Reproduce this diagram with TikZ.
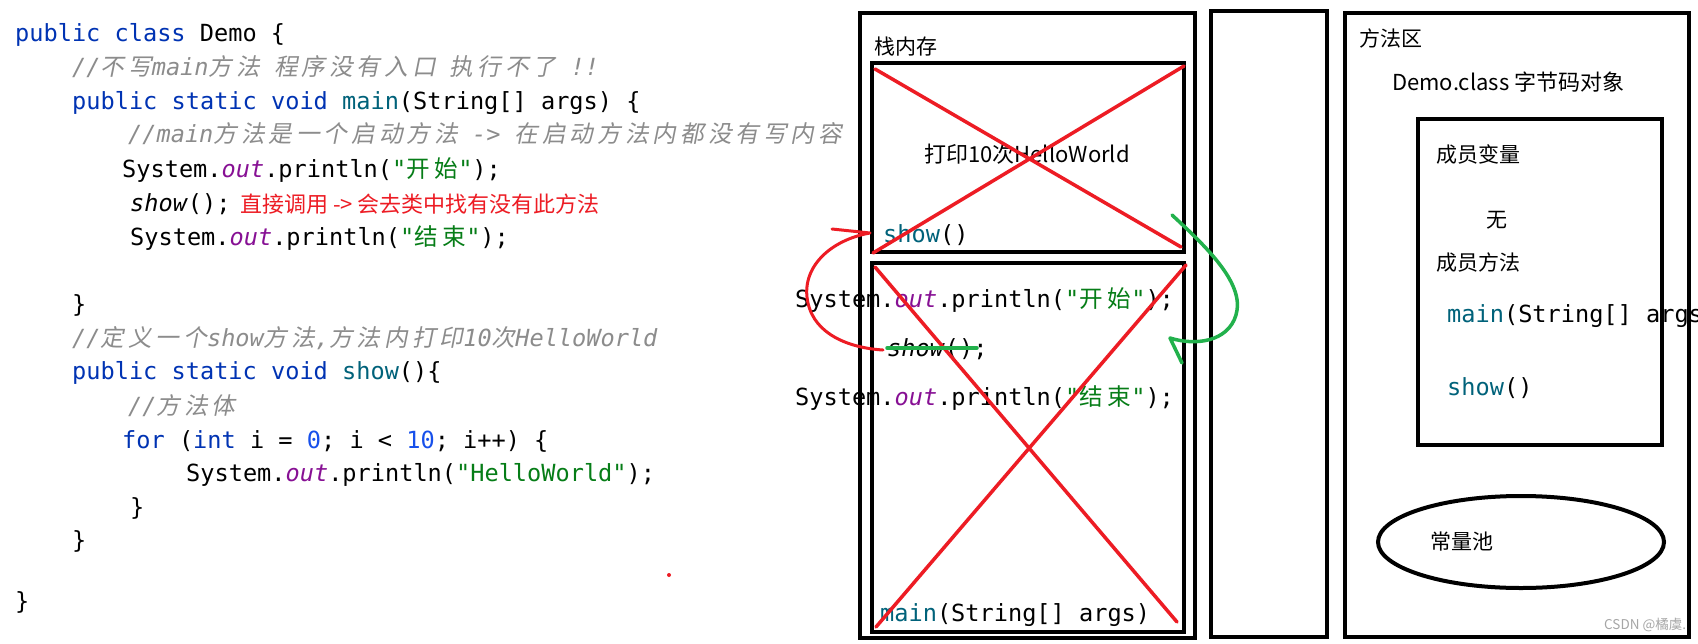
\documentclass[tikz,border=0pt]{standalone}
\usepackage{fontspec}
\newfontfamily\codefont{DejaVu Sans Mono}
\newfontfamily\cjk{Noto Sans CJK SC}
\newfontfamily\cjkcode[LetterSpace=20]{Noto Sans CJK SC}
\newfontfamily\cjkcodeit[LetterSpace=17,FakeSlant=0.2]{Noto Sans CJK SC}
\definecolor{jkwc}{HTML}{0033B3}
\definecolor{jfnc}{HTML}{00627A}
\definecolor{jfldc}{HTML}{871094}
\definecolor{jstrc}{HTML}{067D17}
\definecolor{jnumc}{HTML}{1750EB}
\definecolor{jcmtc}{HTML}{8C8C8C}
\definecolor{penred}{HTML}{ED1C24}
\definecolor{pengreen}{HTML}{22B14C}
\newcommand\jkw[1]{\textcolor{jkwc}{#1}}
\newcommand\jfn[1]{\textcolor{jfnc}{#1}}
\newcommand\jfld[1]{\textcolor{jfldc}{\itshape #1}}
\newcommand\jstr[1]{\textcolor{jstrc}{#1}}
\newcommand\jnum[1]{\textcolor{jnumc}{#1}}
\newcommand\jcn[1]{{\cjkcode #1}}
\newcommand\jcni[1]{{\cjkcodeit #1}}
\begin{document}
\begin{tikzpicture}[x=1pt,y=-1pt,
  code/.style={anchor=base west, inner sep=0pt, font=\codefont\fontsize{23.6}{28}\selectfont},
  cmt/.style={code, text=jcmtc, font=\codefont\fontsize{23.6}{28}\selectfont\itshape},
  lbl/.style={anchor=west, inner sep=0pt, font=\cjk\fontsize{21}{25}\selectfont},
  box/.style={draw=black, line width=4pt},
  redpen/.style={draw=penred, line width=3.5pt, line cap=round, line join=round},
  greenpen/.style={draw=pengreen, line width=3.5pt, line cap=round, line join=round}]
\useasboundingbox[fill=white] (0,0) rectangle (1698,643);

% ---------- source code ----------
\node[code] (l0) at (15,41) {\jkw{public class} Demo \{};
\node[cmt] (l1) at (72,75) {//\jcni{不写}main\jcni{方法} \jcni{程序没有入口} \jcni{执行不了} !!};
\node[code] (l2) at (72,109) {\jkw{public static void} \jfn{main}(String[] args) \{};
\node[cmt] (l3) at (128,142) {//main\jcni{方法是一个启动方法} -> \jcni{在启动方法内都没有写内容}};
\node[code] (l4) at (122,177) {System.\jfld{out}.println(\jstr{"\jcn{开始}"});};
\node[code] (l5) at (130,211) {\textit{show}();};
\node[anchor=west, inner sep=0pt, text=penred, font=\cjk\fontsize{22}{26}\selectfont] (note) at (240,204) {直接调用 -> 会去类中找有没有此方法};
\node[code] (l6) at (130,245) {System.\jfld{out}.println(\jstr{"\jcn{结束}"});};
\node[code] (l8) at (72,312) {\}};
\node[cmt] (l9) at (72,346) {//\jcni{定义一个}show\jcni{方法},\jcni{方法内打印}10\jcni{次}HelloWorld};
\node[code] (l10) at (72,379) {\jkw{public static void} \jfn{show}()\{};
\node[cmt] (l11) at (128,414) {//\jcni{方法体}};
\node[code] (l12) at (122,448) {\jkw{for} (\jkw{int} i = \jnum{0}; i < \jnum{10}; i++) \{};
\node[code] (l13) at (186,481) {System.\jfld{out}.println(\jstr{"HelloWorld"});};
\node[code] (l14) at (130,515) {\}};
\node[code] (l15) at (72,548) {\}};
\node[code] (l17) at (15,609) {\}};
\fill[penred] (669,575) circle (2);

% ---------- stack ----------
\draw[box] (860,13) rectangle (1195,638);
\draw[box] (872,63) rectangle (1184,252);
\draw[box] (872,263) rectangle (1184,632);
\node[lbl] (stk) at (874,47) {栈内存};
\node[anchor=center, inner sep=0pt, font=\cjk\fontsize{22}{26}\selectfont] (hello) at (1027,154) {打印10次HelloWorld};
\node[code] (showframe) at (883,242) {\jfn{show}()};
\node[code] (s1) at (795,307) {System.\jfld{out}.println(\jstr{"\jcn{开始}"});};
\node[code] (scall) at (887,356) {\textit{show}();};
\node[code] (s2) at (795,405) {System.\jfld{out}.println(\jstr{"\jcn{结束}"});};
\node[code] (mainframe) at (880,621) {\jfn{main}(String[] args)};

% middle box
\draw[box] (1211,11) rectangle (1327,637);

% ---------- method area ----------
\draw[box] (1345,13) rectangle (1689,637);
\node[lbl] (ma) at (1359,38) {方法区};
\node[lbl, font=\cjk\fontsize{22}{26}\selectfont] (demo) at (1392,82) {Demo.class 字节码对象};
\draw[box] (1418,119) rectangle (1662,445);
\node[lbl] (mv) at (1436,154) {成员变量};
\node[lbl] (none) at (1486,220) {无};
\node[lbl] (mm) at (1436,263) {成员方法};
\node[code] (mmain) at (1447,322) {\jfn{main}(String[] args)};
\node[code] (mshow) at (1447,395) {\jfn{show}()};
\draw[line width=4pt] (1521,542) ellipse [x radius=143, y radius=46];
\node[lbl] (pool) at (1430,542) {常量池};
\node[anchor=west, inner sep=0pt, text=black!35, font=\cjk\fontsize{13.5}{16}\selectfont] (wm) at (1604,625) {CSDN @橘虞.};

% ---------- pen marks ----------
\draw[redpen] (875,69) -- (1181,247);
\draw[redpen] (873,253) -- (1184,66);
\draw[redpen] (875,267) -- (1177,622);
\draw[redpen] (1186,265) -- (876,627);
\coordinate (rtail) at (832,229);
\coordinate (rtip) at (870,233);
\coordinate (rstart) at (883,350);
\draw[redpen, line width=3pt] (rtail) -- (rtip) .. controls (830,240) and (800,268) .. (808,303) .. controls (815,335) and (850,348) .. (rstart);
\coordinate (gstart) at (1172,215);
\coordinate (gtip) at (1170,338);
\coordinate (gtail) at (1182,363);
\draw[greenpen] (gstart) .. controls (1210,250) and (1245,285) .. (1236,315) .. controls (1228,342) and (1195,346) .. (gtip) -- (gtail);
\draw[greenpen] (887,348) -- (977,348);
\end{tikzpicture}
\end{document}
